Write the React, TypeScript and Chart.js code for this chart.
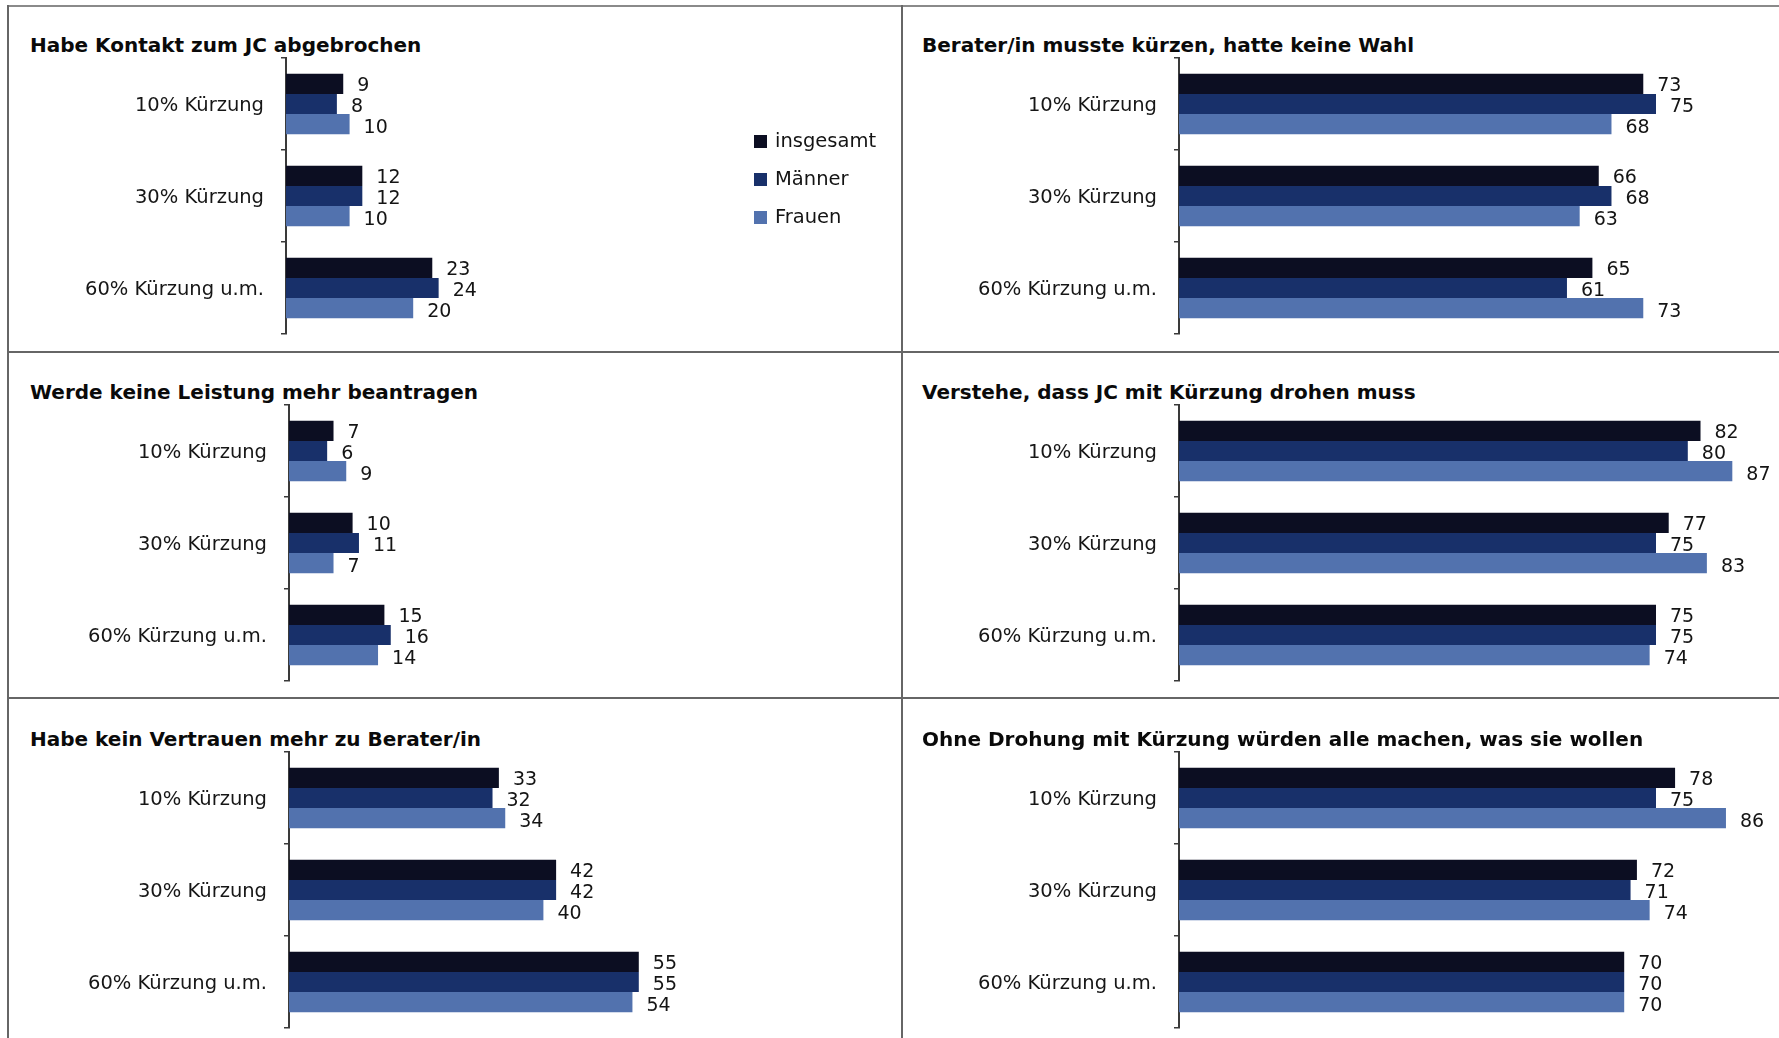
import React, { useEffect, useRef } from 'react';
import { Chart, registerables } from 'chart.js';

Chart.register(...registerables);

// ---------- data ----------
const categories = ['10% Kürzung', '30% Kürzung', '60% Kürzung u.m.'];
const seriesNames = ['insgesamt', 'Männer', 'Frauen'];
const seriesColors = ['#0c0e22', '#18306a', '#5272ae'];

const kontaktTitle = 'Habe Kontakt zum JC abgebrochen';
const kontaktInsgesamt = [9, 12, 23];
const kontaktMaenner = [8, 12, 24];
const kontaktFrauen = [10, 10, 20];

const beraterTitle = 'Berater/in musste kürzen, hatte keine Wahl';
const beraterInsgesamt = [73, 66, 65];
const beraterMaenner = [75, 68, 61];
const beraterFrauen = [68, 63, 73];

const leistungTitle = 'Werde keine Leistung mehr beantragen';
const leistungInsgesamt = [7, 10, 15];
const leistungMaenner = [6, 11, 16];
const leistungFrauen = [9, 7, 14];

const verstehTitle = 'Verstehe, dass JC mit Kürzung drohen muss';
const verstehInsgesamt = [82, 77, 75];
const verstehMaenner = [80, 75, 75];
const verstehFrauen = [87, 83, 74];

const vertrauenTitle = 'Habe kein Vertrauen mehr zu Berater/in';
const vertrauenInsgesamt = [33, 42, 55];
const vertrauenMaenner = [32, 42, 55];
const vertrauenFrauen = [34, 40, 54];

const drohungTitle = 'Ohne Drohung mit Kürzung würden alle machen, was sie wollen';
const drohungInsgesamt = [78, 72, 70];
const drohungMaenner = [75, 71, 70];
const drohungFrauen = [86, 74, 70];

const xMax = 90;

// ---------- layout ----------
const PX_PER_UNIT = 6.36;
const LABEL_FONT = "'DejaVu Sans', sans-serif";

type PanelProps = {
  title: string;
  insgesamt: number[];
  maenner: number[];
  frauen: number[];
  panelLeft: number;
  panelRight: number;
  axisX: number;
  axisTop: number;
  axisBottom: number;
  titleX: number;
  titleBaseline: number;
};

const valueLabelPlugin = {
  id: 'valueLabels',
  afterDatasetsDraw(chart: any) {
    const ctx = chart.ctx;
    ctx.save();
    ctx.font = `19px ${LABEL_FONT}`;
    ctx.fillStyle = '#141414';
    ctx.textAlign = 'left';
    ctx.textBaseline = 'middle';
    chart.data.datasets.forEach((ds: any, i: number) => {
      const meta = chart.getDatasetMeta(i);
      meta.data.forEach((bar: any, j: number) => {
        ctx.fillText(String(ds.data[j]), bar.x + 14, bar.y + 2 + i);
      });
    });
    ctx.restore();
  },
};

function BarPanel(p: PanelProps) {
  const ref = useRef<HTMLCanvasElement | null>(null);
  const padTop = 42;
  const padBottom = 42;
  const width = p.panelRight - p.panelLeft;
  const height = p.axisBottom - p.axisTop + padTop + padBottom;
  const axisWidth = p.axisX - p.panelLeft;
  const areaWidth = PX_PER_UNIT * xMax;
  const padRight = width - axisWidth - areaWidth;

  useEffect(() => {
    if (!ref.current) return;
    const chart = new Chart(ref.current, {
      type: 'bar',
      data: {
        labels: categories,
        datasets: [
          { label: seriesNames[0], data: p.insgesamt, backgroundColor: seriesColors[0] },
          { label: seriesNames[1], data: p.maenner, backgroundColor: seriesColors[1] },
          { label: seriesNames[2], data: p.frauen, backgroundColor: seriesColors[2] },
        ],
      },
      options: {
        indexAxis: 'y',
        responsive: false,
        animation: false,
        devicePixelRatio: 1,
        layout: { padding: { top: padTop, bottom: padBottom, left: 0, right: padRight } },
        datasets: {
          bar: { categoryPercentage: 0.66, barPercentage: 1, borderWidth: 0 },
        },
        plugins: {
          legend: { display: false },
          tooltip: { enabled: false },
          title: { display: false },
        },
        scales: {
          x: { display: false, min: 0, max: xMax },
          y: {
            z: 1,
            offset: true,
            grid: {
              display: true,
              drawOnChartArea: false,
              drawTicks: true,
              tickLength: 5,
              color: '#3a3a3a',
              lineWidth: 1.5,
              offset: true,
            },
            border: { display: true, color: '#3a3a3a', width: 2 },
            ticks: {
              color: '#161616',
              padding: 17,
              labelOffset: 2,
              font: { family: LABEL_FONT, size: 19.5 },
            },
            afterFit: (axis: any) => {
              axis.width = axisWidth;
            },
          },
        },
      } as any,
      plugins: [valueLabelPlugin],
    });
    return () => chart.destroy();
  }, []);

  return (
    <>
      <div
        style={{
          position: 'absolute',
          left: p.titleX,
          top: p.titleBaseline - 17,
          fontFamily: LABEL_FONT,
          fontWeight: 'bold',
          fontSize: 20,
          lineHeight: '20px',
          color: '#0a0a0a',
          whiteSpace: 'nowrap',
        }}
      >
        {p.title}
      </div>
      <canvas
        ref={ref}
        width={width}
        height={height}
        style={{
          position: 'absolute',
          left: p.panelLeft,
          top: p.axisTop - padTop,
          width,
          height,
        }}
      />
    </>
  );
}

const LINE = '#666666';

export default function App() {
  const rowsAxisTop = [58, 405, 752];
  const axisHeight = 276;
  const leftAxisX = [286, 289, 289];
  const rightAxisX = 1179;
  const titleBaselines = [52, 399, 746];

  const left = [
    { title: kontaktTitle, insgesamt: kontaktInsgesamt, maenner: kontaktMaenner, frauen: kontaktFrauen },
    { title: leistungTitle, insgesamt: leistungInsgesamt, maenner: leistungMaenner, frauen: leistungFrauen },
    { title: vertrauenTitle, insgesamt: vertrauenInsgesamt, maenner: vertrauenMaenner, frauen: vertrauenFrauen },
  ];
  const right = [
    { title: beraterTitle, insgesamt: beraterInsgesamt, maenner: beraterMaenner, frauen: beraterFrauen },
    { title: verstehTitle, insgesamt: verstehInsgesamt, maenner: verstehMaenner, frauen: verstehFrauen },
    { title: drohungTitle, insgesamt: drohungInsgesamt, maenner: drohungMaenner, frauen: drohungFrauen },
  ];

  const legendY = [141, 179, 217];

  return (
    <div
      style={{
        position: 'absolute',
        left: 0,
        top: 0,
        width: 1779,
        height: 1038,
        background: '#ffffff',
        overflow: 'hidden',
      }}
    >
      {/* panel frame lines */}
      <div style={{ position: 'absolute', left: 7, top: 5, width: 1772, height: 2, background: '#8a8a8a' }} />
      <div style={{ position: 'absolute', left: 7, top: 351, width: 1772, height: 2, background: LINE }} />
      <div style={{ position: 'absolute', left: 7, top: 697, width: 1772, height: 2, background: LINE }} />
      <div style={{ position: 'absolute', left: 7, top: 5, width: 2, height: 1033, background: LINE }} />
      <div style={{ position: 'absolute', left: 901, top: 5, width: 2, height: 1033, background: LINE }} />

      {left.map((d, i) => (
        <BarPanel
          key={'l' + i}
          {...d}
          panelLeft={10}
          panelRight={900}
          axisX={leftAxisX[i]}
          axisTop={rowsAxisTop[i]}
          axisBottom={rowsAxisTop[i] + axisHeight}
          titleX={30}
          titleBaseline={titleBaselines[i]}
        />
      ))}
      {right.map((d, i) => (
        <BarPanel
          key={'r' + i}
          {...d}
          panelLeft={904}
          panelRight={1779}
          axisX={rightAxisX}
          axisTop={rowsAxisTop[i]}
          axisBottom={rowsAxisTop[i] + axisHeight}
          titleX={922}
          titleBaseline={titleBaselines[i]}
        />
      ))}

      {/* legend */}
      {seriesNames.map((name, i) => (
        <div key={name}>
          <div
            style={{
              position: 'absolute',
              left: 754,
              top: legendY[i] - 6.5,
              width: 13,
              height: 13,
              background: seriesColors[i],
            }}
          />
          <div
            style={{
              position: 'absolute',
              left: 775,
              top: legendY[i] - 12,
              fontFamily: LABEL_FONT,
              fontSize: 19.5,
              lineHeight: '23px',
              color: '#141414',
              whiteSpace: 'nowrap',
            }}
          >
            {name}
          </div>
        </div>
      ))}
    </div>
  );
}
